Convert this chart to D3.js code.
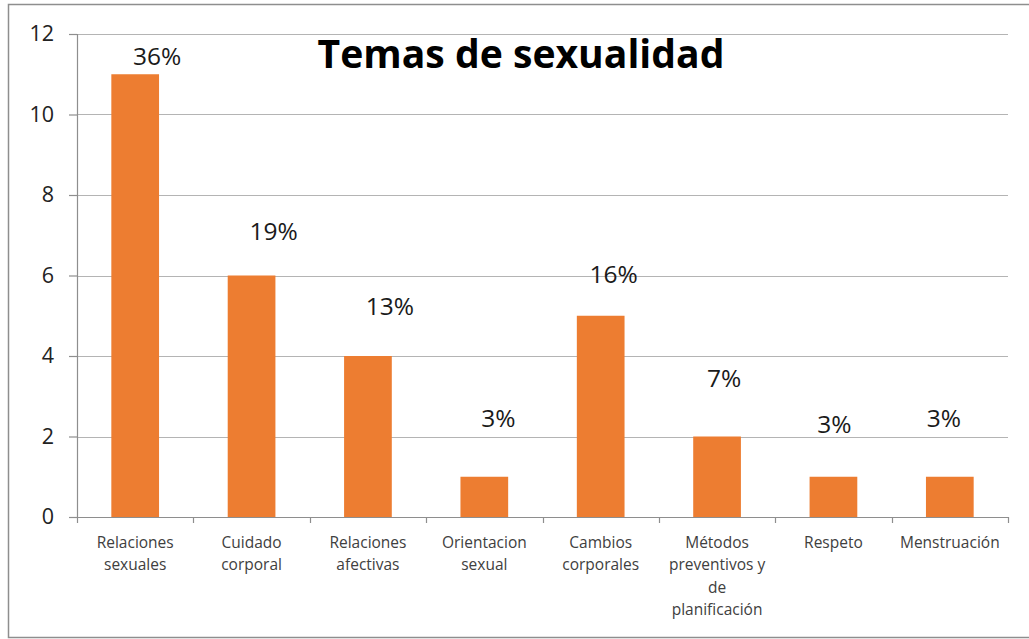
<!DOCTYPE html>
<html>
<head>
<meta charset="utf-8">
<script src="https://cdn.jsdelivr.net/npm/d3@7"></script>
<style>
  body { margin: 0; background: #fff; }
  svg { display: block; font-family: "Open Sans", sans-serif; }
</style>
</head>
<body>
<script>
// Data
const categories = [
  ["Relaciones", "sexuales"],
  ["Cuidado", "corporal"],
  ["Relaciones", "afectivas"],
  ["Orientacion", "sexual"],
  ["Cambios", "corporales"],
  ["Métodos", "preventivos y", "de", "planificación"],
  ["Respeto"],
  ["Menstruación"]
];
const counts = [11, 6, 4, 1, 5, 2, 1, 1];
const percents = ["36%", "19%", "13%", "3%", "16%", "7%", "3%", "3%"];
const yTicks = [0, 2, 4, 6, 8, 10, 12];
const title = "Temas de sexualidad";

const W = 1029, H = 639;
const plotLeft = 77, plotRight = 1008, plotTop = 34, plotBottom = 517;
const barColor = "#ED7D31";

// hand-placed data labels (dx, dy from bar top), as in the original
const labelNudge = [[22, -9], [22, -36], [22, -41], [14, -50], [13, -33], [7, -50], [1, -44], [-6, -50]];

const svg = d3.select("body").append("svg")
    .attr("width", W)
    .attr("height", H);

svg.append("rect").attr("width", W).attr("height", H).attr("fill", "#fff");

// outer frame
svg.append("path")
    .attr("d", `M${W + 2},4.5 H8.5 V637.5 H${W + 2}`)
    .attr("fill", "none")
    .attr("stroke", "#8e8e8e")
    .attr("stroke-width", 1.5);

const idx = d3.range(categories.length);
const x = d3.scaleBand()
    .domain(idx)
    .range([plotLeft, plotRight])
    .paddingInner(0.59)
    .paddingOuter(0.295);
const y = d3.scaleLinear().domain([0, 12]).range([plotBottom, plotTop]);

// gridlines
svg.append("g")
    .selectAll("line")
    .data(yTicks.filter(d => d > 0))
    .join("line")
    .attr("x1", plotLeft).attr("x2", plotRight)
    .attr("y1", d => Math.round(y(d)) + 0.5)
    .attr("y2", d => Math.round(y(d)) + 0.5)
    .attr("stroke", "#b4b4b4")
    .attr("stroke-width", 1.2);

// y axis
const yAxis = svg.append("g")
    .attr("transform", `translate(${plotLeft},0)`)
    .call(d3.axisLeft(y).tickValues(yTicks).tickSize(8).tickPadding(15));
yAxis.select(".domain").attr("stroke", "#8e8e8e").attr("stroke-width", 1.2);
yAxis.selectAll(".tick line").attr("stroke", "#8e8e8e").attr("stroke-width", 1.2);
yAxis.selectAll(".tick text")
    .attr("font-size", 21.5)
    .attr("fill", "#222")
    .attr("font-family", "Open Sans, sans-serif");

// x axis
const xAxisLine = svg.append("g");
xAxisLine.append("line")
    .attr("x1", plotLeft - 8).attr("x2", plotRight)
    .attr("y1", plotBottom + 0.5).attr("y2", plotBottom + 0.5)
    .attr("stroke", "#8e8e8e").attr("stroke-width", 1.2);
xAxisLine.selectAll(".sep")
    .data(d3.range(categories.length + 1))
    .join("line")
    .attr("x1", i => Math.round(plotLeft + i * x.step()) + 0.5)
    .attr("x2", i => Math.round(plotLeft + i * x.step()) + 0.5)
    .attr("y1", plotBottom).attr("y2", plotBottom + 6)
    .attr("stroke", "#8e8e8e").attr("stroke-width", 1.2);

// bars
svg.append("g")
    .selectAll("rect")
    .data(counts)
    .join("rect")
    .attr("x", (d, i) => x(i))
    .attr("y", d => y(d))
    .attr("width", x.bandwidth())
    .attr("height", d => y(0) - y(d))
    .attr("fill", barColor);

// data labels
svg.append("g")
    .selectAll("text")
    .data(percents)
    .join("text")
    .attr("x", (d, i) => x(i) + x.bandwidth() / 2 + labelNudge[i][0])
    .attr("y", (d, i) => y(counts[i]) + labelNudge[i][1])
    .attr("text-anchor", "middle")
    .attr("font-size", 24.5)
    .attr("fill", "#1a1a1a")
    .text(d => d);

// category labels
const cat = svg.append("g")
    .selectAll("text")
    .data(categories)
    .join("text")
    .attr("text-anchor", "middle")
    .attr("font-size", 15.5)
    .attr("fill", "#404040");
cat.each(function (lines, i) {
    d3.select(this).selectAll("tspan")
        .data(lines)
        .join("tspan")
        .attr("x", x(i) + x.bandwidth() / 2)
        .attr("y", (l, j) => 548 + j * 22.3)
        .text(l => l);
});

// title
const t = svg.append("text")
    .attr("x", 521)
    .attr("y", 68)
    .attr("text-anchor", "middle")
    .attr("font-weight", "bold")
    .attr("font-size", 40)
    .attr("fill", "#000")
    .text(title);
const tw = t.node().getComputedTextLength();
if (tw > 0) t.attr("font-size", 40 * 407 / tw);
</script>
</body>
</html>
